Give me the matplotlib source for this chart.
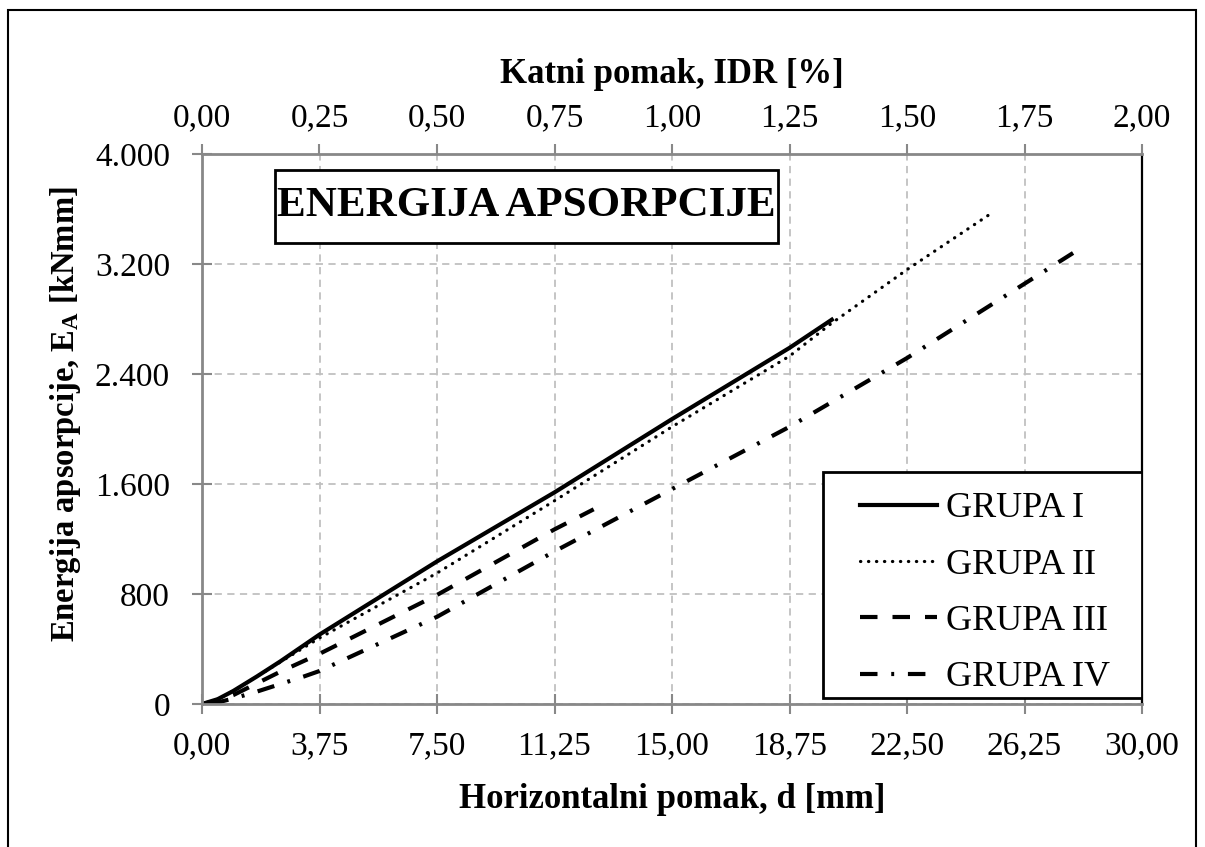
# Energija apsorpcije - grupe I-IV

import numpy as np
import matplotlib
matplotlib.use('Agg')
import matplotlib.pyplot as plt
from matplotlib.patches import Rectangle
from matplotlib.ticker import FixedLocator, FuncFormatter

plt.rcParams['font.family'] = ['Liberation Serif', 'DejaVu Serif']
plt.rcParams['mathtext.fontset'] = 'custom'
plt.rcParams['mathtext.rm'] = 'Liberation Serif'
plt.rcParams['mathtext.bf'] = 'Liberation Serif:bold'

# Podaci (ocitani sa grafika)
d_I = [0, 0.5, 1.0, 1.75, 2.5, 3.75, 7.5, 11.25, 15.0, 18.75, 20.1]
E_I = [0, 35, 95, 200, 310, 505, 1037, 1539, 2072, 2590, 2795]

d_II = [0, 0.5, 1.0, 1.75, 2.5, 3.75, 7.5, 11.25, 15.0, 18.75, 20.1, 22.5, 25.1]
E_II = [0, 35, 95, 200, 305, 480, 952, 1478, 2016, 2530, 2770, 3159, 3555]

d_III = [0, 0.5, 1.0, 1.75, 2.5, 3.75, 7.5, 11.25, 12.5]
E_III = [0, 25, 65, 150, 235, 365, 793, 1270, 1416]

d_IV = [0.3, 1.0, 1.75, 2.5, 3.25, 3.75, 7.5, 11.25, 15.0, 18.75, 22.5, 27.8]
E_IV = [0, 40, 90, 145, 200, 240, 634, 1110, 1563, 2016, 2516, 3280]

x_ticks = [0, 3.75, 7.5, 11.25, 15, 18.75, 22.5, 26.25, 30]
y_ticks = [0, 800, 1600, 2400, 3200, 4000]
idr_ticks = [0, 0.25, 0.5, 0.75, 1.0, 1.25, 1.5, 1.75, 2.0]

siva = '#888888'

fig = plt.figure(figsize=(12.05, 8.47), dpi=100)
ax = fig.add_axes([202/1205, 1-704/847, 940/1205, 550/847])

ax.plot(d_I, E_I, color='black', lw=3, label='GRUPA I')
ax.plot(d_II, E_II, color='black', lw=2.3, linestyle=(0, (0.1, 2.4)),
        dash_capstyle='round', label='GRUPA II')
ax.plot(d_III, E_III, color='black', lw=3, linestyle=(0, (4.2, 3.6)),
        label='GRUPA III')
ax.plot(d_IV, E_IV, color='black', lw=3, linestyle=(0, (4.2, 3.3, 0.7, 3.3)),
        label='GRUPA IV')

ax.set_xlim(0, 30)
ax.set_ylim(0, 4000)
ax.xaxis.set_major_locator(FixedLocator(x_ticks))
ax.yaxis.set_major_locator(FixedLocator(y_ticks))
ax.xaxis.set_major_formatter(FuncFormatter(lambda v, p: f'{v:.2f}'.replace('.', ',')))
ax.yaxis.set_major_formatter(FuncFormatter(lambda v, p: f'{int(v):,}'.replace(',', '.')))
ax.grid(True, color='#c0c0c0', linestyle=(0, (4, 3)), lw=1.3)
ax.set_axisbelow(True)

for s in ['left', 'bottom', 'top']:
    ax.spines[s].set_color(siva)
    ax.spines[s].set_linewidth(2)
ax.spines['right'].set_color('black')
ax.spines['right'].set_linewidth(1.6)

ax.tick_params(axis='both', direction='inout', length=14, width=1.5, color=siva,
               labelsize=24, pad=12)
ax.tick_params(axis='y', right=False, pad=16)

ax.set_xlabel('Horizontalni pomak, d [mm]', fontsize=25, fontweight='bold', labelpad=16)
ax.set_ylabel(r'Energija apsorpcije, $\mathbf{E_A}$ [kNmm]', fontsize=23.5,
              fontweight='bold')
ax.yaxis.set_label_coords((83-202)/940, 0.527)

# gornja osa - katni pomak
ax2 = ax.twiny()
ax2.set_xlim(0, 2)
ax2.xaxis.set_major_locator(FixedLocator(idr_ticks))
ax2.xaxis.set_major_formatter(FuncFormatter(lambda v, p: f'{v:.2f}'.replace('.', ',')))
ax2.tick_params(axis='x', direction='out', length=7, width=1.5, color=siva,
                labelsize=24, pad=8)
for s in ax2.spines.values():
    s.set_visible(False)
ax2.set_xlabel('Katni pomak, IDR [%]', fontsize=25, fontweight='bold', labelpad=14)

# naslov u okviru
ax.add_patch(Rectangle(((275-202)/940, (704-243)/550), 503/940, 73/550,
                       transform=ax.transAxes, facecolor='white', edgecolor='black',
                       lw=2, zorder=4))
ax.text((526-202)/940, (704-206)/550, 'ENERGIJA APSORPCIJE', transform=ax.transAxes,
        fontsize=31, fontweight='bold', ha='center', va='center', zorder=5)

# legenda
ax.add_patch(Rectangle(((823-202)/940, (704-698)/550), (1142-823)/940, (698-472)/550,
                       transform=ax.transAxes, facecolor='white', edgecolor='black',
                       lw=2, zorder=4))
leg = ax.legend(loc='upper left', bbox_to_anchor=((860-202)/940, (704-492)/550),
                frameon=False, fontsize=26, handlelength=2.13, handletextpad=0.25,
                labelspacing=0.64, borderaxespad=0, borderpad=0)
leg.set_zorder(5)

fig.add_artist(Rectangle((8/1205, -0.01), (1196-8)/1205, 1-10/847+0.01,
                         transform=fig.transFigure, fill=False, edgecolor='black', lw=1.5))

fig.savefig('out.png', dpi=100)
